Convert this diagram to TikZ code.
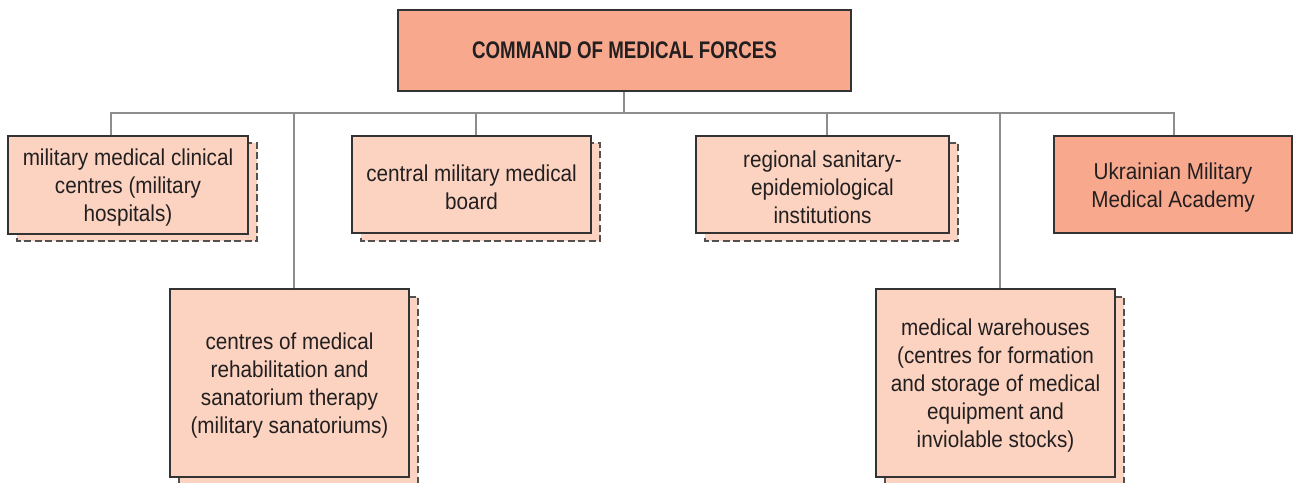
\documentclass[tikz,border=0pt]{standalone}
\usepackage{fontspec}
\setmainfont{Liberation Sans}[FakeStretch=0.9]
\newfontfamily\titlefont{Liberation Sans}[FakeStretch=0.78]
\definecolor{lightbox}{HTML}{FBD3C0}
\definecolor{darkbox}{HTML}{F7A88D}
\definecolor{linegray}{HTML}{8C8D8F}
\definecolor{border}{HTML}{333333}
\definecolor{txt}{HTML}{231F20}
\tikzset{
  conn/.style={draw=linegray, line width=2.4pt},
  unit/.style={draw=border, line width=1.1pt, fill=lightbox, inner sep=0pt},
  unittext/.style={align=center, text=txt, font=\fontsize{23}{28}\selectfont, inner sep=0pt, yshift=-3pt},
  shadowbox/.style={draw=border!85, dashed, dash pattern=on 7pt off 3.5pt, line width=1.1pt, fill=lightbox},
}
\begin{document}
\begin{tikzpicture}[x=1pt,y=-1pt]
\useasboundingbox (0,0) rectangle (1293,482);
% shadows
\draw[shadowbox] (17,143) rectangle (257,241);
\draw[shadowbox] (361,143) rectangle (600,241);
\draw[shadowbox] (705,143) rectangle (958,241);
\draw[shadowbox] (179,297) rectangle (418,486);
\draw[shadowbox] (885,297) rectangle (1124,486);
% nodes
\node[unit, fill=darkbox, minimum width=453pt, minimum height=81pt, text=txt,
  font=\titlefont\fontsize{24}{28}\bfseries\selectfont] (cmd) at (624.5,50.5) {COMMAND OF MEDICAL FORCES};
\node[unit, minimum width=240pt, minimum height=98pt,
  label={[unittext]center:military medical clinical\\centres (military\\hospitals)}] (b1) at (128,185) {};
\node[unit, minimum width=239pt, minimum height=97pt,
  label={[unittext]center:central military medical\\board}] (b2) at (471.5,184.5) {};
\node[unit, minimum width=253pt, minimum height=97pt,
  label={[unittext]center:regional sanitary-\\epidemiological\\institutions}] (b3) at (822.5,184.5) {};
\node[unit, fill=darkbox, minimum width=238pt, minimum height=97pt,
  label={[unittext]center:Ukrainian Military\\Medical Academy}] (acad) at (1173,184.5) {};
\node[unit, minimum width=239pt, minimum height=188pt,
  label={[unittext]center:centres of medical\\rehabilitation and\\sanatorium therapy\\(military sanatoriums)}] (b4) at (289.5,383) {};
\node[unit, minimum width=239pt, minimum height=188pt,
  label={[unittext]center:medical warehouses\\(centres for formation\\and storage of medical\\equipment and\\inviolable stocks)}] (b5) at (995.5,383) {};
% connectors
\coordinate (bus) at (624,113);
\draw[conn] (cmd.south -| bus) -- (bus);
\draw[conn] ([xshift=-17pt]b1.north) |- (bus);
\draw[conn] ([xshift=1pt]acad.north) |- (bus);
\draw[conn] ([xshift=4.5pt]b2.north) -- ([xshift=4.5pt]b2.north |- bus);
\draw[conn] ([xshift=4.5pt]b3.north) -- ([xshift=4.5pt]b3.north |- bus);
\draw[conn] ([xshift=4.5pt]b4.north) -- ([xshift=4.5pt]b4.north |- bus);
\draw[conn] ([xshift=4.5pt]b5.north) -- ([xshift=4.5pt]b5.north |- bus);
\end{tikzpicture}
\end{document}
